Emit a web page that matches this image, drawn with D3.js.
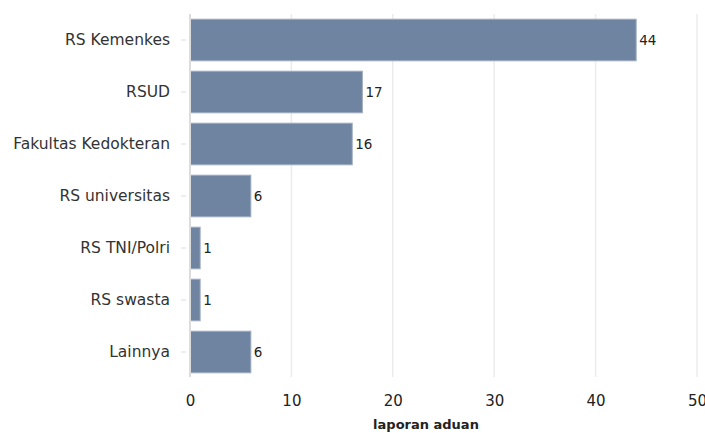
<!DOCTYPE html>
<html>
<head>
<meta charset="utf-8">
<script src="https://cdn.jsdelivr.net/npm/d3@7"></script>
<style>
  body { margin: 0; background: #fff; }
  text { font-family: "DejaVu Sans", sans-serif; }
</style>
</head>
<body>
<svg></svg>
<script>
var w = 705, h = 433;

var categories = ["RS Kemenkes", "RSUD", "Fakultas Kedokteran", "RS universitas", "RS TNI/Polri", "RS swasta", "Lainnya"];
var values = [44, 17, 16, 6, 1, 1, 6];
var xTicks = [0, 10, 20, 30, 40, 50];
var xTitle = "laporan aduan";

var margin = {top: 14, right: 8, bottom: 55, left: 190};

var svg = d3.select("svg")
  .attr("width", w)
  .attr("height", h);

var x = d3.scaleLinear()
  .domain([0, 50])
  .range([margin.left, 697]);

var y = d3.scaleBand()
  .domain(categories)
  .range([margin.top, 378])
  .paddingInner(0.2)
  .paddingOuter(0.1);

// grid lines
svg.append("g")
  .selectAll("line")
  .data(xTicks.slice(1))
  .enter()
  .append("line")
  .attr("x1", function(d){ return x(d); })
  .attr("x2", function(d){ return x(d); })
  .attr("y1", 14)
  .attr("y2", 377)
  .attr("stroke", "#ececec")
  .attr("stroke-width", 1.5);

// bars
svg.append("g")
  .selectAll("rect")
  .data(values)
  .enter()
  .append("rect")
  .attr("x", x(0))
  .attr("y", function(d, i){ return y(categories[i]); })
  .attr("width", function(d){ return x(d) - x(0); })
  .attr("height", y.bandwidth())
  .attr("fill", "#6f84a0")
  .attr("stroke", "#9fadc0")
  .attr("stroke-width", 1);

// value labels
svg.append("g")
  .selectAll("text")
  .data(values)
  .enter()
  .append("text")
  .attr("x", function(d){ return x(d) + 3; })
  .attr("y", function(d, i){ return y(categories[i]) + y.bandwidth() / 2; })
  .attr("dy", "0.35em")
  .attr("font-size", 13.5)
  .attr("fill", "#222")
  .text(function(d){ return d; });

// y axis
var yAxis = svg.append("g")
  .attr("transform", "translate(" + (margin.left) + ",0)")
  .call(d3.axisLeft(y).tickSize(6).tickPadding(12));
yAxis.select(".domain").attr("stroke", "#dcdcdc").attr("stroke-width", 2)
  .attr("d", "M0,14V377");
yAxis.selectAll(".tick line").attr("stroke", "#dcdcdc").attr("x1", -4).attr("x2", -9);
yAxis.selectAll(".tick text")
  .attr("font-size", 15.5)
  .attr("fill", "#333")
  .attr("x", -20);

// x axis
var xAxis = svg.append("g")
  .attr("transform", "translate(0,377)")
  .call(d3.axisBottom(x).tickValues(xTicks).tickSize(0).tickPadding(18));
xAxis.select(".domain").remove();
xAxis.selectAll(".tick text")
  .attr("font-size", 15)
  .attr("fill", "#222");

svg.append("text")
  .attr("x", 426)
  .attr("y", 429)
  .attr("text-anchor", "middle")
  .attr("font-size", 13)
  .attr("font-weight", "bold")
  .attr("fill", "#222")
  .text(xTitle);
</script>
</body>
</html>
